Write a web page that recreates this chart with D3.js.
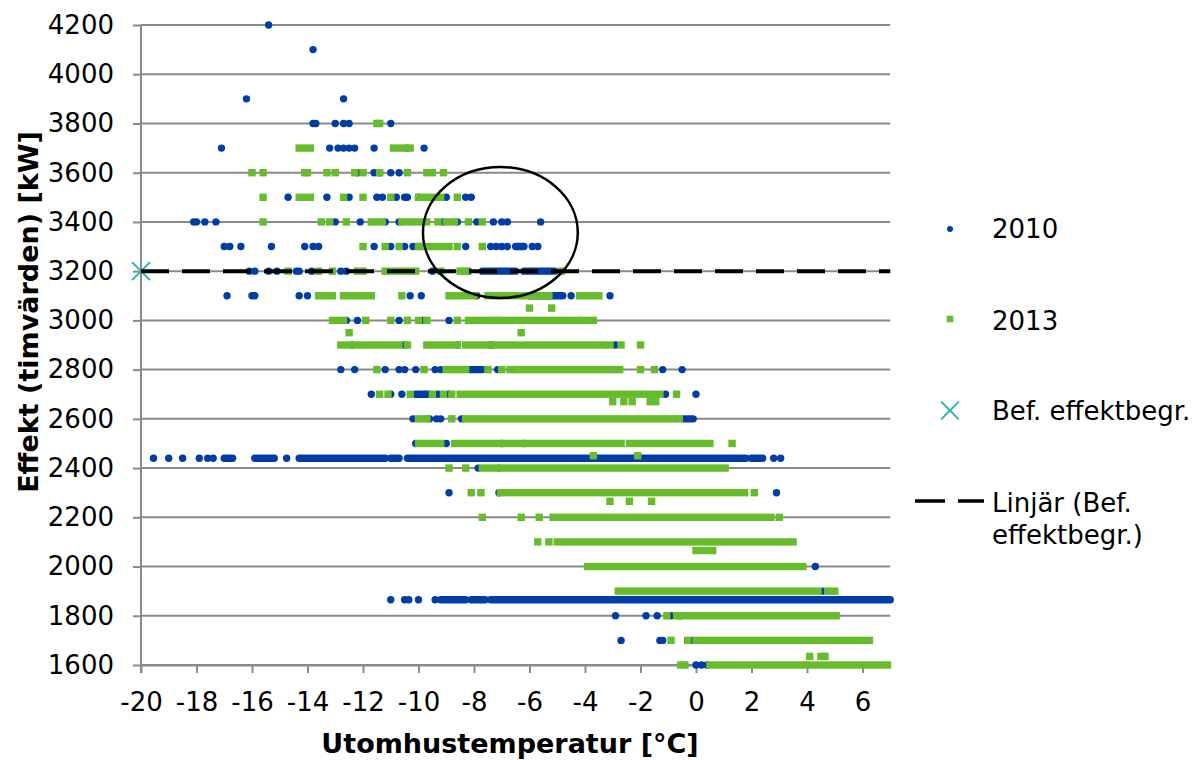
<!DOCTYPE html>
<head>
  <meta charset="utf-8">
  <title>Effekt mot utomhustemperatur</title>
  <script src="https://d3js.org/d3.v7.min.js"></script>
  <style>
    body { margin:0; background:#fff; }
    svg { display:block; font-family:"DejaVu Sans", Verdana, sans-serif; }
  </style>
</head>
<body>
  <svg width="1201" height="760"></svg>
  <script>
    var xTicks = [-20, -18, -16, -14, -12, -10, -8, -6, -4, -2, 0, 2, 4, 6];
    var yTicks = [1600, 1800, 2000, 2200, 2400, 2600, 2800, 3000, 3200, 3400, 3600, 3800, 4000, 4200];
    var legendLabels = ['2010', '2013', 'Bef. effektbegr.', ['Linjär (Bef.', 'effektbegr.)']];

    // each row: [effekt kW, temperatures]; a pair [a, b] is a dense run of hourly values
    var data2010 = [
      [4200, [-15.4]],
      [4100, [-13.8]],
      [3900, [-16.2, -12.7]],
      [3800, [-13.8, -13.7, -13.0, -12.7, -12.5, -11.0]],
      [3700, [-17.1, -13.2, -12.9, -12.7, -12.5, -12.3, -11.6, -10.4, -9.8]],
      [3600, [-12.2, -11.6, -11.4, -11.0, -10.7]],
      [3500, [-14.7, -13.3, -12.5, -11.5, -11.3, -10.8, -10.5, -10.4, -10.0, -9.0, -8.3, -8.1]],
      [3400, [-18.1, -18.0, -17.7, -17.3, -13.0, -12.1, -11.2, -10.7, -9.1, -8.6, -7.9, -7.3, -7.0, -6.8, -5.6]],
      [3300, [-17.0, -16.8, -16.4, -15.3, -14.1, -13.8, -13.6, -11.6, -11.0, -10.5, -10.2, -8.3, -7.4, -7.2, -7.0, -6.8, [-6.5, -6.2], -5.9, -5.7]],
      [3200, [-16.1, -15.9, -15.4, -15.1, -14.4, -14.3, -13.85, -12.8, -12.6, -9.5, -8.2, [-7.7, -6.5], [-6.2, -5.1]]],
      [3100, [-16.9, -16.0, -15.9, -14.3, -14.0, -10.3, -9.9, -7.9, [-6.0, -4.8], -4.5, -3.1]],
      [3000, [-12.6, -12.2, -10.7, -9.85, -8.9, -7.2, -4.2]],
      [2900, [-12.4, -10.5, -8.6, -7.4, -2.9]],
      [2800, [-12.8, -12.3, -11.2, -10.7, -10.5, -10.1, -9.4, -9.2, [-8.15, -7.7], -7.15, -1.2, -0.5]],
      [2700, [-11.7, -11.0, -10.6, [-10.1, -9.6], -9.3, -8.9, -1.1, 0.0]],
      [2600, [-10.2, -9.6, -9.35, -9.2, -8.45, [-0.45, -0.1]]],
      [2500, [-10.1, -9.0, -7.0, -6.2]],
      [2440, [-19.55, -19.0, -18.5, -17.9, -17.6, -17.4, [-17.0, -16.7], [-15.9, -15.2], -14.75, [-14.3, -11.2], [-11.0, -10.7], [-10.4, 1.8], [2.0, 2.4], 2.8, 3.05]],
      [2400, [-7.85, -7.1]],
      [2300, [-8.9, -7.1, 2.9]],
      [2000, [4.3]],
      [1900, [4.55]],
      [1865, [-11.0, -10.5, -10.35, -10.0, -9.4, [-9.2, -8.3], [-8.1, -7.6], [-7.4, 7.0]]],
      [1800, [-2.9, -1.8, -1.4, -0.9, -0.55]],
      [1700, [-2.7, -1.3, -1.2, -0.1]],
      [1600, [0.0, 0.2, 0.4]]
    ];

    var data2013 = [
      [3800, [-11.5, -11.4]],
      [3700, [[-14.3, -13.9], [-10.9, -10.3]]],
      [3600, [-16.0, -15.6, -14.1, -14.0, -13.3, -13.0, -12.3, -12.0, -11.4, -10.4, -9.7, -9.5, -9.1]],
      [3500, [-15.6, [-14.3, -13.9], -12.7, -12.0, -11.0, [-10.0, -9.2], -8.6]],
      [3400, [-15.6, -13.5, -13.2, -12.6, [-11.7, -11.3], [-10.6, -9.7], -9.3, [-9.0, -8.7], -8.2, -7.7]],
      [3300, [-12.0, -11.2, -10.7, -10.0, [-9.9, -8.9], -8.6, -7.7]],
      [3200, [-14.7, -13.6, -13.1, [-12.2, -12.0], [-11.2, -10.1], -9.2, -8.5, -8.3, -4.85]],
      [3100, [[-13.6, -13.1], [-12.7, -11.7], -10.6, [-8.9, -8.0], [-7.5, -6.0], [-5.8, -5.3], [-4.2, -3.5]]],
      [3050, [-6.0, -5.2]],
      [3000, [[-13.1, -12.7], -11.9, -11.0, -10.4, -10.0, -9.7, -8.6, [-8.2, -3.7]]],
      [2950, [-12.5, -6.3]],
      [2900, [[-12.8, -12.1], [-11.9, -10.7], -10.4, -9.7, [-9.5, -8.6], [-8.3, -7.4], [-7.3, -3.3], -3.1, -2.7, -2.0]],
      [2800, [-11.5, -9.8, [-9.0, -8.3], -7.5, -7.0, -6.7, [-6.5, -2.75], -2.0, -1.5]],
      [2700, [-11.4, -11.1, -10.3, -9.5, -9.1, -8.8, [-8.5, -1.3], -0.7]],
      [2670, [-3.0, -2.6, -2.3, -1.65, -1.45]],
      [2600, [[-10.0, -9.7], -8.8, [-8.3, -0.8], -0.6]],
      [2500, [[-10.0, -9.2], [-8.7, -7.1], [-6.9, -6.3], [-6.1, -2.7], [-2.4, 0.5], 1.3]],
      [2450, [-3.7, -2.1]],
      [2400, [-8.9, -8.3, [-7.7, -7.2], [-7.0, 1.05]]],
      [2300, [-8.1, -7.75, [-7.05, 1.75], 2.1]],
      [2265, [-3.1, -2.4, -1.6]],
      [2200, [-7.7, -6.3, -5.65, [-5.15, 2.7], 3.0]],
      [2100, [-5.7, -5.3, [-5.0, 3.5]]],
      [2065, [[0.0, 0.6]]],
      [2000, [[-3.9, 3.85]]],
      [1900, [[-2.8, 4.4], 4.75, 5.0]],
      [1800, [-1.05, -0.7, [-0.55, 5.05]]],
      [1700, [-0.9, -0.3, [0.0, 6.25]]],
      [1635, [4.1, 4.5, 4.65]],
      [1600, [-0.55, -0.4, [0.5, 6.9]]]
    ];

    // Bef. effektbegr. and its linear trendline
    var befTemp = [-20];
    var befEffekt = [3200];
    var trendTemp = [-20, 7];
    var trendEffekt = [3200, 3200];

    // hand-drawn ring around the marked area (in data units)
    var ringCenter = [-7.05, 3357];
    var ringRadius = [2.79, 266];

    var width = 1201, height = 760;
    var margin = {top: 25, bottom: 95, left: 141, right: 310.75};

    var svg = d3.select('svg');
    svg.append('rect').attr('width', width).attr('height', height).attr('fill', '#fff');

    var xScale = d3.scaleLinear().domain([-20, 7]).range([margin.left, width - margin.right]);
    var yScale = d3.scaleLinear().domain([1600, 4200]).range([height - margin.bottom, margin.top]);

    var gridColor = '#8a8a8a';
    var blue = '#003da5', green = '#67bc2c', teal = '#22b0aa';
    var r = 3.7, sq = 7.4;

    // gridlines
    svg.append('g').selectAll('line').data(yTicks).enter().append('line')
      .attr('x1', xScale(-20)).attr('x2', xScale(7))
      .attr('y1', d => yScale(d)).attr('y2', d => yScale(d))
      .attr('stroke', gridColor).attr('stroke-width', 2);

    // axes (plain hyphen minus, no thousands separator)
    var fmt = d => String(d);
    var xAxis = d3.axisBottom(xScale).tickValues(xTicks).tickFormat(fmt).tickSize(8).tickSizeOuter(0).tickPadding(20);
    var yAxis = d3.axisLeft(yScale).tickValues(yTicks).tickFormat(fmt).tickSize(8).tickSizeOuter(0).tickPadding(19);

    var gx = svg.append('g').attr('transform', 'translate(' + [0, yScale(1600)] + ')').call(xAxis);
    var gy = svg.append('g').attr('transform', 'translate(' + [xScale(-20), 0] + ')').call(yAxis);
    [gx, gy].forEach(g => {
      g.select('.domain').attr('stroke', gridColor).attr('stroke-width', 2);
      g.selectAll('.tick line').attr('stroke', gridColor).attr('stroke-width', 2);
      g.selectAll('.tick text').attr('fill', '#000').style('font-size', '26px')
        .style('font-family', '"DejaVu Sans", Verdana, sans-serif');
    });
    gy.select('.domain').attr('d', 'M0,' + (yScale(4200)) + 'V' + (yScale(1600) + 8));

    // flatten rows into points and runs
    function expand(rows) {
      var pts = [], runs = [];
      rows.forEach(row => row[1].forEach(t => {
        if (Array.isArray(t)) runs.push({y: row[0], t0: t[0], t1: t[1]});
        else pts.push({y: row[0], t: t});
      }));
      return {pts: pts, runs: runs};
    }
    var s10 = expand(data2010), s13 = expand(data2013);

    // 2010
    var g10 = svg.append('g').attr('fill', blue);
    g10.selectAll('rect').data(s10.runs).enter().append('rect')
      .attr('x', d => xScale(d.t0) - r).attr('y', d => yScale(d.y) - r)
      .attr('width', d => xScale(d.t1) - xScale(d.t0) + 2 * r).attr('height', 2 * r)
      .attr('rx', r).attr('ry', r);
    g10.selectAll('circle').data(s10.pts).enter().append('circle')
      .attr('cx', d => xScale(d.t)).attr('cy', d => yScale(d.y)).attr('r', r);

    // 2013
    var g13 = svg.append('g').attr('fill', green);
    g13.selectAll('rect.run').data(s13.runs).enter().append('rect').attr('class', 'run')
      .attr('x', d => xScale(d.t0) - sq / 2).attr('y', d => yScale(d.y) - sq / 2)
      .attr('width', d => xScale(d.t1) - xScale(d.t0) + sq).attr('height', sq);
    g13.selectAll('rect.pt').data(s13.pts).enter().append('rect').attr('class', 'pt')
      .attr('x', d => xScale(d.t) - sq / 2).attr('y', d => yScale(d.y) - sq / 2)
      .attr('width', sq).attr('height', sq);

    // Bef. effektbegr. marker
    function cross(x, y, s) {
      return 'M' + (x - s) + ',' + (y - s) + 'L' + (x + s) + ',' + (y + s) +
             'M' + (x - s) + ',' + (y + s) + 'L' + (x + s) + ',' + (y - s);
    }
    svg.append('g').selectAll('path').data(befTemp).enter().append('path')
      .attr('d', (d, i) => cross(xScale(d), yScale(befEffekt[i]), 9))
      .attr('stroke', teal).attr('stroke-width', 1.8).attr('fill', 'none');

    // linear trendline
    var line = d3.line().x(d => xScale(d[0])).y(d => yScale(d[1]));
    svg.append('path')
      .attr('d', line(d3.zip(trendTemp, trendEffekt)))
      .attr('fill', 'none').attr('stroke', '#000').attr('stroke-width', 4)
      .attr('stroke-dasharray', '28,13');

    // ring
    svg.append('ellipse')
      .attr('cx', xScale(ringCenter[0])).attr('cy', yScale(ringCenter[1]))
      .attr('rx', xScale(ringCenter[0] + ringRadius[0]) - xScale(ringCenter[0]))
      .attr('ry', yScale(ringCenter[1] - ringRadius[1]) - yScale(ringCenter[1]))
      .attr('fill', 'none').attr('stroke', '#000').attr('stroke-width', 2.5);

    // axis titles
    svg.append('text')
      .attr('x', 510).attr('y', 753).attr('text-anchor', 'middle')
      .style('font-size', '27px').style('font-weight', 'bold')
      .text('Utomhustemperatur [°C]');
    svg.append('text')
      .attr('transform', 'translate(38,312) rotate(-90)').attr('text-anchor', 'middle')
      .style('font-size', '27px').style('font-weight', 'bold')
      .text('Effekt (timvärden) [kW]');

    // legend
    var lx = 950, tx = 992;
    var legend = svg.append('g').style('font-size', '26px');
    legend.append('circle').attr('cx', lx).attr('cy', 229).attr('r', 3).attr('fill', blue);
    legend.append('text').attr('x', tx).attr('y', 238).text(legendLabels[0]);
    legend.append('rect').attr('x', lx - 3.3).attr('y', 319 - 3.3).attr('width', 6.6).attr('height', 6.6).attr('fill', green);
    legend.append('text').attr('x', tx).attr('y', 330).text(legendLabels[1]);
    legend.append('path').attr('d', cross(lx, 410.5, 8.8)).attr('stroke', teal).attr('stroke-width', 1.8).attr('fill', 'none');
    legend.append('text').attr('x', tx).attr('y', 420).text(legendLabels[2]);
    legend.append('line').attr('x1', 915).attr('x2', 984).attr('y1', 501).attr('y2', 501)
      .attr('stroke', '#000').attr('stroke-width', 3.5).attr('stroke-dasharray', '30,13');
    legend.append('text').attr('x', tx).attr('y', 512).text(legendLabels[3][0]);
    legend.append('text').attr('x', tx).attr('y', 544).text(legendLabels[3][1]);
  </script>
</body>
